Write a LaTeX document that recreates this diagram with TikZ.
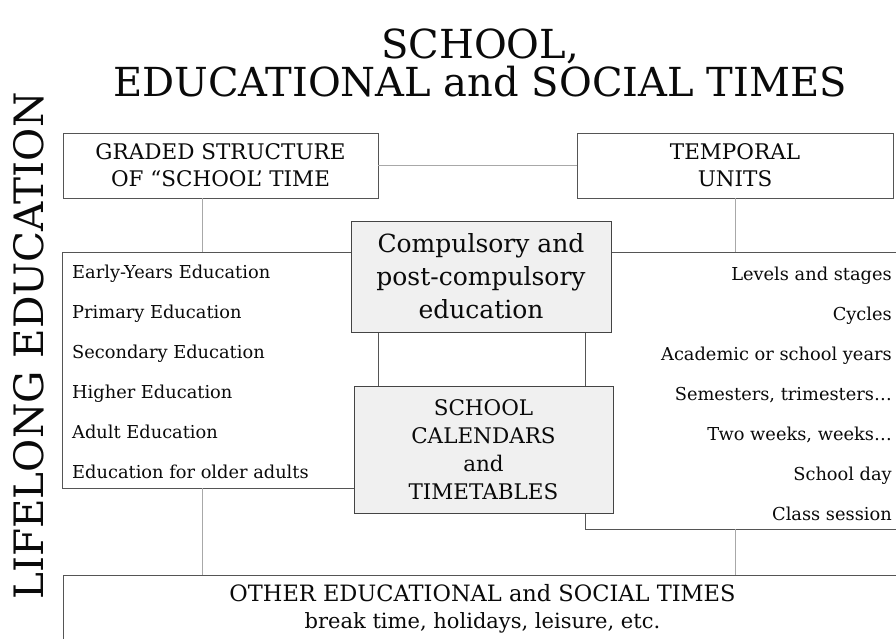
\documentclass[tikz,border=0pt]{standalone}
\usepackage{fontspec}
\setmainfont{DejaVu Serif}
\usetikzlibrary{calc}
\definecolor{boxline}{HTML}{555555}
\definecolor{coreline}{HTML}{444444}
\definecolor{connc}{HTML}{A8A8A8}
\definecolor{cfill}{HTML}{F0F0F0}
\definecolor{ink}{HTML}{0A0A0A}
\tikzset{
  framebox/.style={draw=boxline, line width=0.8pt, fill=white, inner sep=0pt},
  corebox/.style={draw=coreline, line width=0.9pt, fill=cfill, inner sep=0pt, align=center, text=ink},
  headtext/.style={align=center, text=ink, font=\fontsize{21.5}{27}\selectfont},
  itemtext/.style={text=ink, font=\fontsize{17.8}{20}\selectfont, inner sep=0pt},
  connline/.style={draw=connc, line width=0.8pt},
}
\begin{document}
\begin{tikzpicture}[x=1pt,y=-1pt]
\useasboundingbox (0,0) rectangle (896,639);
\clip (0,0) rectangle (896,639);

% title
\node[text=ink, font=\fontsize{40}{40}\selectfont, anchor=base, inner sep=0pt] (t1) at (480,59) {SCHOOL,};
\node[text=ink, font=\fontsize{40}{40}\selectfont, anchor=base, inner sep=0pt] (t2) at (480,97) {EDUCATIONAL and SOCIAL TIMES};

% side label
\node[text=ink, font=\fontsize{40.5}{42}\selectfont, rotate=90, anchor=base, inner sep=0pt] (life) at (43,346) {LIFELONG EDUCATION};

% list frames
\node[framebox, minimum width=316pt, minimum height=236pt] (lbox) at (220,370) {};
\node[framebox, minimum width=320pt, minimum height=277pt] (rbox) at (745,390.5) {};

% header boxes
\node[framebox, headtext, minimum width=315pt, minimum height=65pt] (graded) at (220.5,165.5) {GRADED STRUCTURE\\OF “SCHOOL’ TIME};
\node[framebox, headtext, minimum width=316pt, minimum height=65pt] (temporal) at (735,165.5) {TEMPORAL\\UNITS};

% bottom box
\node[framebox, headtext, minimum width=839pt, minimum height=67pt] (bottom) at (482.5,608.5) {{\fontsize{22.5}{27}\selectfont OTHER EDUCATIONAL and SOCIAL TIMES}\\{\fontsize{21}{27}\selectfont break time, holidays, leisure, etc.}};

% connectors
\draw[connline] (graded.east) -- (temporal.west);
\draw[connline] ([xshift=140pt]graded.south west) -- ([xshift=141pt]lbox.north west);
\draw[connline] (temporal.south) -- (rbox.north -| temporal.south);
\draw[connline] ([xshift=141pt]lbox.south west) -- ([xshift=140pt]bottom.north west);
\draw[connline] (rbox.south -| temporal.south) -- (bottom.north -| temporal.south);

% central boxes
\node[corebox, font=\fontsize{25}{33}\selectfont, minimum width=260pt, minimum height=111pt] (compulsory) at (481,276.5) {Compulsory and\\post-compulsory\\education};
\node[corebox, font=\fontsize{21.5}{28}\selectfont, minimum width=259pt, minimum height=127pt] (calendars) at (483.5,449.5) {SCHOOL\\CALENDARS\\and\\TIMETABLES};

% left items
\node[itemtext, anchor=base west] (l1) at (72,278) {Early-Years Education};
\node[itemtext, anchor=base west] (l2) at (72,318) {Primary Education};
\node[itemtext, anchor=base west] (l3) at (72,358) {Secondary Education};
\node[itemtext, anchor=base west] (l4) at (72,398) {Higher Education};
\node[itemtext, anchor=base west] (l5) at (72,438) {Adult Education};
\node[itemtext, anchor=base west] (l6) at (72,478) {Education for older adults};

% right items
\node[itemtext, anchor=base east] (r1) at (892,280) {Levels and stages};
\node[itemtext, anchor=base east] (r2) at (892,320) {Cycles};
\node[itemtext, anchor=base east] (r3) at (892,360) {Academic or school years};
\node[itemtext, anchor=base east] (r4) at (892,400) {Semesters, trimesters…};
\node[itemtext, anchor=base east] (r5) at (892,440) {Two weeks, weeks…};
\node[itemtext, anchor=base east] (r6) at (892,480) {School day};
\node[itemtext, anchor=base east] (r7) at (892,520) {Class session};
\end{tikzpicture}
\end{document}
